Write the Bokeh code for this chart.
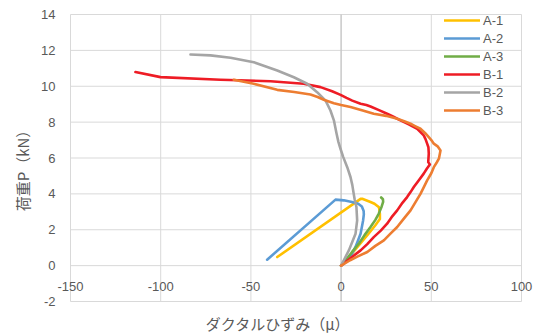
import math
from bokeh.plotting import figure
from bokeh.models import Legend, LegendItem, Label, Range1d
from bokeh.embed import file_html
from bokeh.resources import INLINE

# ---- data ----
a1_x = [0, 5, 10, 15, 19, 21.5, 21.5, 21, 18.5, 16.3, 11.7, 10.8, -35.4]
a1_y = [0, 0.55, 1.15, 1.75, 2.25, 2.6, 2.9, 3.25, 3.45, 3.55, 3.73, 3.72, 0.48]

a2_x = [0, 2.5, 5.2, 8, 10.8, 12.2, 12.6, 12.5, 11.5, 9.5, 6, 1.5, -3.1, -41]
a2_y = [0, 0.3, 0.5, 1.04, 1.78, 2.52, 2.85, 3.05, 3.3, 3.45, 3.55, 3.64, 3.68, 0.33]

a3_x = [0, 3, 6, 10, 13, 16.3, 19, 20.9, 22.5, 23.3, 23.2, 22.2]
a3_y = [0, 0.35, 0.75, 1.25, 1.7, 2.15, 2.55, 2.9, 3.3, 3.55, 3.7, 3.8]

b1_x = [0, 5, 10.8, 14.5, 18.1, 22, 25.5, 28, 31.1, 34, 36.6, 38.5, 40.3, 43, 45.8,
        47.5, 49.2, 48.3, 48.6, 48.4, 47.7, 46.8, 45.8, 44, 42.2, 37.5, 32.9, 29,
        25.5, 21, 16.3, 14, 10.8, 6.2, 3, -0.3, -5, -11.4, -20.7, -39.1, -66.9,
        -100.1, -114]
b1_y = [0, 0.4, 0.85, 1.2, 1.59, 1.95, 2.34, 2.7, 3.08, 3.5, 3.82, 4.1, 4.38, 4.75, 5.13,
        5.4, 5.64, 5.77, 6.24, 6.6, 6.8, 7.05, 7.26, 7.45, 7.63, 7.88, 8.1, 8.3,
        8.47, 8.67, 8.87, 8.95, 9.02, 9.2, 9.35, 9.52, 9.72, 9.95, 10.14, 10.28, 10.36,
        10.51, 10.79]

b2_x = [0, 1.5, 4.3, 6.5, 8, 8.9, 8.5, 7.5, 7.0, 6.2, 5.2, 3.4, 1.2, -0.3, -1.5, -2.5,
        -4.0, -5.9, -8.6, -13.3, -18.8, -26.2, -35.4, -48.4, -61.3, -72.4, -83.5]
b2_y = [0, 0.3, 0.85, 1.4, 1.78, 2.52, 3.27, 3.7, 4.0, 4.5, 4.94, 5.49, 6.05, 6.5, 6.9, 7.35,
        8.1, 8.65, 9.2, 9.67, 10.14, 10.5, 10.88, 11.34, 11.59, 11.72, 11.77]

b3_x = [0, 5, 9, 14.5, 19, 23.7, 27.5, 31.1, 35, 38.5, 41, 44.0, 46, 47.7, 50, 51.4, 53,
        54.2, 55.1, 53.5, 51.4, 50, 48.6, 46.5, 44.0, 41, 38.5, 35, 31.1, 25, 18.1, 12,
        5.2, 0, -4.0, -9.6, -13, -17.0, -26, -35.4, -48.4, -59.5]
b3_y = [0, 0.3, 0.5, 0.76, 1.1, 1.41, 1.8, 2.15, 2.65, 3.08, 3.5, 4.0, 4.4, 4.75, 5.15, 5.49, 5.75,
        5.96, 6.42, 6.65, 6.8, 7.0, 7.16, 7.4, 7.63, 7.78, 7.91, 8.05, 8.19, 8.35, 8.47, 8.65,
        8.84, 8.95, 9.05, 9.25, 9.4, 9.54, 9.68, 9.8, 10.14, 10.36]

series_names = ["A-1", "A-2", "A-3", "B-1", "B-2", "B-3"]
series_colors = ["#FFC000", "#5B9BD5", "#70AD47", "#EE1C25", "#A5A5A5", "#ED7D31"]

x_ticks = [-150, -100, -50, 0, 50, 100]
y_ticks = [-2, 0, 2, 4, 6, 8, 10, 12, 14]
axis_cross = 0

x_title = "ダクタルひずみ（μ）"
y_title = "荷重P（kN）"

# ---- layout (pixels on the 541x336 canvas) ----
W, H = 541, 336
PL, PR, PT, PB = 70, 521, 14, 301          # plot-area box
x0, x1 = x_ticks[0], x_ticks[-1]
y0, y1 = y_ticks[0], y_ticks[-1]
sx = (PR - PL) / (x1 - x0)
sy = (PB - PT) / (y1 - y0)
xr = Range1d(x0 - PL / sx, x1 + (W - PR) / sx)
yr = Range1d(y0 - (H - PB) / sy, y1 + PT / sy)

TXT = "#595959"
GRID = "#D9D9D9"
p = figure(width=W, height=H, output_backend="svg", toolbar_location=None,
           x_range=xr, y_range=yr, min_border=0)
p.min_border_left = p.min_border_right = p.min_border_top = p.min_border_bottom = 0
p.outline_line_color = None
p.background_fill_color = "white"
p.border_fill_color = "white"
p.xaxis.visible = False
p.yaxis.visible = False
p.xgrid.visible = False
p.ygrid.visible = False

# gridlines of the plot area
p.segment(x0=x_ticks, y0=[y0] * len(x_ticks), x1=x_ticks, y1=[y1] * len(x_ticks),
          line_color=GRID, line_width=1)
p.segment(x0=[x0] * len(y_ticks), y0=y_ticks, x1=[x1] * len(y_ticks), y1=y_ticks,
          line_color=GRID, line_width=1)
# value axis line crossing at 0
p.segment(x0=[axis_cross], y0=[y0], x1=[axis_cross], y1=[y1],
          line_color="#BFBFBF", line_width=1)

# tick labels
for t in y_ticks:
    p.add_layout(Label(x=x0, y=t, x_offset=-15, text=str(t), text_align="right",
                       text_baseline="middle", text_color=TXT,
                       text_font="Liberation Sans", text_font_size="13px"))
for t in x_ticks:
    p.add_layout(Label(x=t, y=axis_cross, y_offset=-21, text=str(t), text_align="center",
                       text_baseline="middle", text_color=TXT,
                       text_font="Liberation Sans", text_font_size="13px"))

items = []
for name, color, xs, ys in zip(series_names, series_colors,
                               [a1_x, a2_x, a3_x, b1_x, b2_x, b3_x],
                               [a1_y, a2_y, a3_y, b1_y, b2_y, b3_y]):
    r = p.line(xs, ys, line_color=color, line_width=2.6, line_join="round", line_cap="round")
    items.append(LegendItem(label=name, renderers=[r]))

legend = Legend(items=items, location=(444, 217), padding=0, margin=0,
                spacing=0, glyph_width=36, glyph_height=18, label_height=18,
                label_standoff=3, label_text_color=TXT, label_text_font="Liberation Sans",
                label_text_font_size="13px", background_fill_alpha=0,
                border_line_color=None)
p.add_layout(legend, "center")

# axis titles
p.add_layout(Label(x=-35, y=y0, y_offset=-22, text=x_title, text_align="center",
                   text_baseline="middle", text_color=TXT,
                   text_font="Noto Sans CJK JP", text_font_size="15px"))
p.add_layout(Label(x=x0, y=5.5, x_offset=-48, text=y_title, text_align="center",
                   text_baseline="middle", angle=math.pi / 2, text_color=TXT,
                   text_font="Noto Sans CJK JP", text_font_size="15px"))

open("out.html", "w").write(file_html(p, INLINE))
